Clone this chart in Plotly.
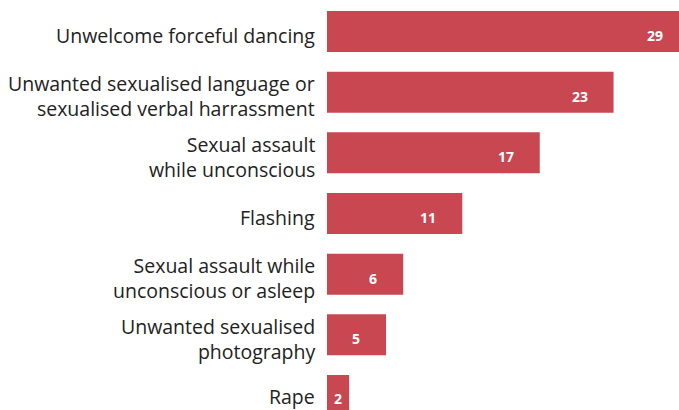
import plotly.graph_objects as go

categories = [
    "Unwelcome forceful dancing",
    "Unwanted sexualised language or<br>sexualised verbal harrassment",
    "Sexual assault<br>while unconscious",
    "Flashing",
    "Sexual assault while<br>unconscious or asleep",
    "Unwanted sexualised<br>photography",
    "Rape",
]
values = [29.4, 23.3, 17.3, 11.0, 6.2, 4.8, 1.8]
value_labels = ["29", "23", "17", "11", "6", "5", "2"]

BAR = "#C84751"
X_MAX = 28.62
PLOT_W = 679 - 327
PX_PER_UNIT = PLOT_W / X_MAX
LABEL_FONT = dict(family="Open Sans", size=19.5, color="#222222")
VALUE_FONT = dict(family="Open Sans", size=14, color="white")

fig = go.Figure(go.Bar(
    x=values, y=categories, orientation="h",
    marker=dict(color=BAR, line=dict(width=0)),
    hoverinfo="skip",
    cliponaxis=True,
))

n = len(categories)
for i, (cat, v, lab) in enumerate(zip(categories, values, value_labels)):
    # category label, left of the axis (last one nudged to stay inside the canvas)
    fig.add_annotation(x=0, y=cat, text=cat, showarrow=False, align="right",
                       xanchor="right", xshift=-10,
                       yshift=-1 if i == n - 1 else -4, font=LABEL_FONT)
    # value label inside bar end
    if v < 3:
        fig.add_annotation(x=v / 2, y=cat, text=f"<b>{lab}</b>", showarrow=False,
                           xanchor="center", yshift=-3, font=VALUE_FONT)
    else:
        xa = min(v, X_MAX)
        extra = (v - xa) * PX_PER_UNIT
        fig.add_annotation(x=xa, y=cat, text=f"<b>{lab}</b>", showarrow=False,
                           xanchor="right", xshift=-24 + extra, yshift=-4,
                           font=VALUE_FONT)

fig.update_layout(
    width=679, height=410,
    margin=dict(l=327, r=0, t=0, b=0),
    paper_bgcolor="white", plot_bgcolor="white",
    bargap=0.324,
    showlegend=False,
    font=LABEL_FONT,
    xaxis=dict(range=[0, X_MAX], visible=False, fixedrange=True),
    yaxis=dict(range=[6.239, -0.519], showgrid=False, zeroline=False,
               showline=False, showticklabels=False, fixedrange=True),
)

fig.write_html("out.html")
